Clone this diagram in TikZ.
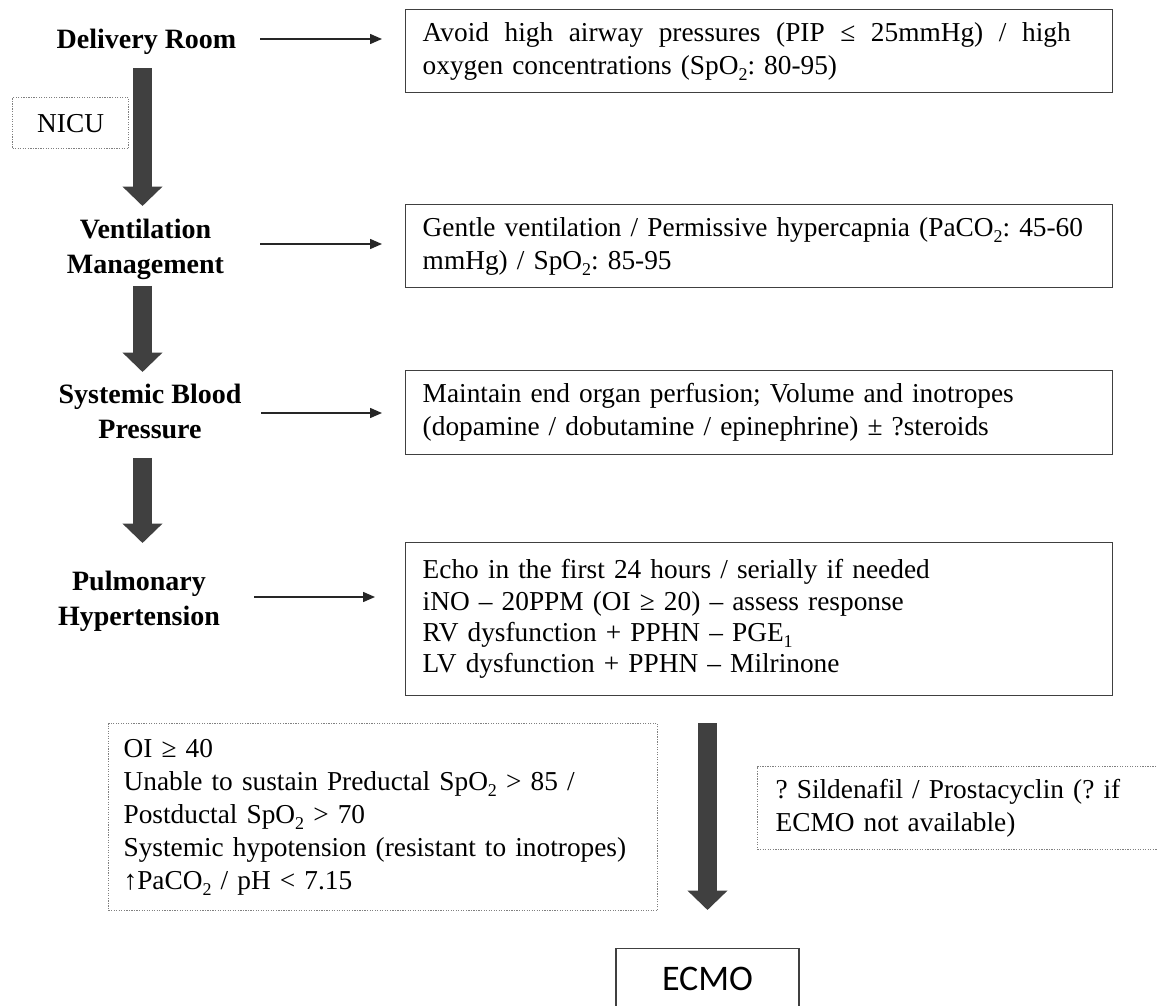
\documentclass[tikz,border=0pt]{standalone}
\usepackage{fontspec}
\setmainfont{Liberation Serif}
\newfontfamily\ecmofont{Carlito}
\usetikzlibrary{arrows.meta,positioning}
\newlength{\px}
\setlength{\px}{0.75pt}
\newcommand{\low}[1]{\raisebox{-4.5pt}{\fontsize{13.5}{14}\selectfont #1}}
\frenchspacing
\tikzset{
	stage/.style={font=\fontsize{21}{26}\selectfont\bfseries, align=center, inner sep=0pt},
	infobox/.style={draw=black!75, line width=1.1pt, anchor=north west, align=left, inner xsep=17\px, inner ysep=0pt, font=\fontsize{20.5}{24.75}\selectfont},
	notebox/.style={infobox, draw=black!50, line width=0.9pt, densely dotted},
	thinarr/.style={-{Triangle[length=9pt,width=7.5pt]}, line width=1.1pt, black!85},
	bigarr/.style={-{Triangle[width=29.25pt,length=14.6pt]}, line width=14.25pt, draw=black!75},
}
\begin{document}
\begin{tikzpicture}[x=0.75pt, y=-0.75pt]
		\path[fill=white, use as bounding box] (0,0) rectangle (1157,1006);
		% stages on the left
		\node[stage, anchor=base] (dr) at (146.5,49) {Delivery Room};
		\node[stage, anchor=north] (vm) at (145.5,219) {Ventilation\\Management};
		\node[stage, anchor=north] (sbp) at (150,384) {Systemic Blood\\Pressure};
		\node[stage, anchor=north] (ph) at (139,571) {Pulmonary\\Hypertension};
		\node[notebox, align=center, inner xsep=0pt, text width=116\px, minimum height=51\px] (nicu) at (12,97) {NICU};
		% boxes on the right
		\node[infobox, text width=673\px, minimum height=83\px] (b1) at (405,9) {{\spaceskip=0pt\makebox[648\px][s]{Avoid high airway pressures (PIP ≤ 25mmHg) / high}}\\oxygen concentrations (SpO\low{2}: 80-95)};
		\node[infobox, text width=673\px, minimum height=83\px] (b2) at (405,204) {Gentle ventilation / Permissive hypercapnia (PaCO\low{2}: 45-60\\mmHg) / SpO\low{2}: 85-95};
		\node[infobox, text width=673\px, minimum height=84\px] (b3) at (405,370) {Maintain end organ perfusion; Volume and inotropes\\(dopamine / dobutamine / epinephrine) ± ?steroids};
		\node[infobox, text width=673\px, minimum height=153\px, font=\fontsize{20.5}{23.5}\selectfont] (b4) at (405,542) {Echo in the first 24 hours / serially if needed\\iNO – 20PPM (OI ≥ 20) – assess response\\RV dysfunction + PPHN – PGE\low{1}\\LV dysfunction + PPHN – Milrinone};
		\node[notebox, inner xsep=15\px, text width=519\px, minimum height=187\px] (crit) at (108,723) {OI ≥ 40\\Unable to sustain Preductal SpO\low{2} > 85 /\\Postductal SpO\low{2} > 70\\Systemic hypotension (resistant to inotropes)\\↑PaCO\low{2} / pH < 7.15};
		\node[notebox, inner xsep=18\px, text width=384\px, minimum height=83\px] (alt) at (757,766) {? Sildenafil / Prostacyclin (? if\\ECMO not available)};
		\node[draw=black!75, line width=1.1pt, minimum width=183\px, minimum height=60\px, inner sep=0pt, anchor=north, font=\ecmofont\fontsize{27}{32}\selectfont] (ecmo) at (707.5,948) {ECMO};
		% thick arrows
		\coordinate (spine) at (142.5,0);
		\draw[bigarr, shorten <=9.75pt, shorten >=9.75pt] (dr.south -| spine) -- (vm.north -| spine);
		\draw[bigarr, shorten <=4.5pt, shorten >=9pt] (vm.south -| spine) -- (sbp.north -| spine);
		\draw[bigarr, shorten <=14.25pt, shorten >=21pt] (sbp.south -| spine) -- (ph.north -| spine);
		\draw[bigarr, shorten <=20.25pt, shorten >=28.5pt] (b4.south -| ecmo.north) -- (ecmo.north);
		% thin arrows
		\coordinate (t1) at (260,39);
		\coordinate (t2) at (260,244);
		\coordinate (t3) at (261,413);
		\coordinate (t4) at (254,597);
		\draw[thinarr, shorten >=17.25pt] (t1) -- (t1 -| b1.west);
		\draw[thinarr, shorten >=17.25pt] (t2) -- (t2 -| b2.west);
		\draw[thinarr, shorten >=17.25pt] (t3) -- (t3 -| b3.west);
		\draw[thinarr, shorten >=22.5pt] (t4) -- (t4 -| b4.west);
\end{tikzpicture}
\end{document}
